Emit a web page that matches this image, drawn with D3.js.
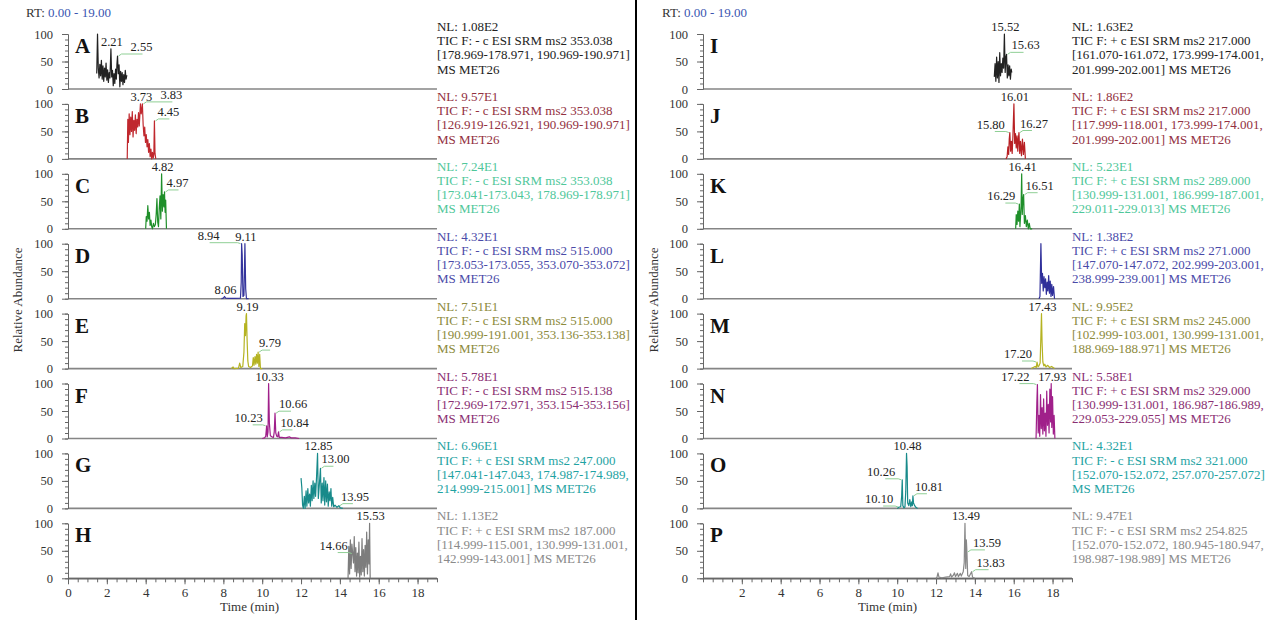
<!DOCTYPE html>
<html>
<head>
<meta charset="utf-8">
<script src="https://cdn.jsdelivr.net/npm/d3@7"></script>
<style>
  body { margin: 0; background: #fff; }
  svg text { font-family: "Liberation Serif", "Times New Roman", serif; }
</style>
</head>
<body>
<svg id="chart" width="1272" height="620"></svg>
<script>
// ---- data ----
const letters = ["A","B","C","D","E","F","G","H","I","J","K","L","M","N","O","P"];
const nlLabels = ["1.08E2","9.57E1","7.24E1","4.32E1","7.51E1","5.78E1","6.96E1","1.13E2",
                  "1.63E2","1.86E2","5.23E1","1.38E2","9.95E2","5.58E1","4.32E1","9.47E1"];
const ticLines = [
  ["TIC F: - c ESI SRM ms2 353.038","[178.969-178.971, 190.969-190.971]","MS MET26"],
  ["TIC F: - c ESI SRM ms2 353.038","[126.919-126.921, 190.969-190.971]","MS MET26"],
  ["TIC F: - c ESI SRM ms2 353.038","[173.041-173.043, 178.969-178.971]","MS MET26"],
  ["TIC F: - c ESI SRM ms2 515.000","[173.053-173.055, 353.070-353.072]","MS MET26"],
  ["TIC F: - c ESI SRM ms2 515.000","[190.999-191.001, 353.136-353.138]","MS MET26"],
  ["TIC F: - c ESI SRM ms2 515.138","[172.969-172.971, 353.154-353.156]","MS MET26"],
  ["TIC F: + c ESI SRM ms2 247.000","[147.041-147.043, 174.987-174.989,","214.999-215.001] MS MET26"],
  ["TIC F: + c ESI SRM ms2 187.000","[114.999-115.001, 130.999-131.001,","142.999-143.001] MS MET26"],
  ["TIC F: + c ESI SRM ms2 217.000","[161.070-161.072, 173.999-174.001,","201.999-202.001] MS MET26"],
  ["TIC F: + c ESI SRM ms2 217.000","[117.999-118.001, 173.999-174.001,","201.999-202.001] MS MET26"],
  ["TIC F: + c ESI SRM ms2 289.000","[130.999-131.001, 186.999-187.001,","229.011-229.013] MS MET26"],
  ["TIC F: + c ESI SRM ms2 271.000","[147.070-147.072, 202.999-203.001,","238.999-239.001] MS MET26"],
  ["TIC F: + c ESI SRM ms2 245.000","[102.999-103.001, 130.999-131.001,","188.969-188.971] MS MET26"],
  ["TIC F: + c ESI SRM ms2 329.000","[130.999-131.001, 186.987-186.989,","229.053-229.055] MS MET26"],
  ["TIC F: - c ESI SRM ms2 321.000","[152.070-152.072, 257.070-257.072]","MS MET26"],
  ["TIC F: - c ESI SRM ms2 254.825","[152.070-152.072, 180.945-180.947,","198.987-198.989] MS MET26"]
];

// traces: [time (min), relative abundance]
const traceA = [[1.48,28],[1.52,100],[1.56,38],[1.60,20],[1.64,45],[1.68,24],[1.72,52],[1.76,18],[1.80,42],[1.84,14],[1.88,38],[1.92,22],[1.96,47],[2.00,16],[2.04,35],[2.08,12],[2.12,30],[2.16,20],[2.21,73],[2.25,22],[2.29,34],[2.33,6],[2.37,28],[2.41,10],[2.45,36],[2.49,18],[2.52,45],[2.55,60],[2.59,28],[2.63,44],[2.67,4],[2.71,32],[2.75,14],[2.79,30],[2.83,8],[2.87,26],[2.91,12],[2.95,34],[2.99,18],[3.03,25]];
const traceB = [[3.05,0],[3.08,72],[3.11,30],[3.15,82],[3.19,44],[3.23,76],[3.27,50],[3.31,86],[3.35,40],[3.39,70],[3.43,52],[3.47,80],[3.51,46],[3.55,72],[3.59,58],[3.63,84],[3.67,60],[3.73,100],[3.77,82],[3.80,90],[3.83,100],[3.87,62],[3.91,42],[3.95,58],[3.99,30],[4.03,44],[4.07,22],[4.11,35],[4.15,12],[4.19,28],[4.23,4],[4.27,18],[4.31,0],[4.35,12],[4.39,2],[4.42,8],[4.45,69],[4.48,10],[4.52,0]];
const traceC = [[4.00,0],[4.03,22],[4.07,14],[4.11,42],[4.15,18],[4.19,30],[4.23,6],[4.27,16],[4.31,4],[4.35,0],[4.40,10],[4.45,4],[4.50,8],[4.54,26],[4.58,55],[4.62,12],[4.66,4],[4.70,38],[4.74,60],[4.78,18],[4.82,100],[4.86,32],[4.90,62],[4.94,40],[4.97,67],[5.00,30],[5.03,52],[5.07,0]];
const traceD = [[7.90,0],[8.00,1],[8.06,4],[8.12,1],[8.30,0.5],[8.60,0.5],[8.88,1],[8.92,30],[8.94,100],[8.97,80],[9.01,4],[9.06,6],[9.09,60],[9.11,100],[9.15,18],[9.19,0],[9.30,0]];
const traceE = [[8.40,0],[8.50,3],[8.55,0],[8.78,1],[8.84,10],[8.90,2],[9.00,4],[9.06,30],[9.10,82],[9.14,60],[9.17,96],[9.19,100],[9.22,55],[9.26,14],[9.30,4],[9.40,2],[9.50,5],[9.54,20],[9.58,6],[9.63,22],[9.67,8],[9.71,26],[9.75,10],[9.79,30],[9.83,4],[9.87,26],[9.91,0],[10.00,0]];
const traceF = [[10.00,0],[10.12,1],[10.18,4],[10.23,23],[10.26,3],[10.30,12],[10.33,100],[10.37,28],[10.42,5],[10.50,3],[10.58,2],[10.62,12],[10.66,46],[10.70,10],[10.75,4],[10.80,3],[10.84,12],[10.88,2],[11.00,2],[11.20,1],[11.40,3],[11.50,1],[11.70,1],[11.90,0]];
const traceG = [[12.00,55],[12.04,38],[12.08,6],[12.12,0],[12.17,22],[12.21,0],[12.26,32],[12.30,4],[12.35,36],[12.39,10],[12.44,26],[12.48,4],[12.53,42],[12.57,14],[12.62,50],[12.66,18],[12.71,46],[12.75,22],[12.80,58],[12.85,100],[12.89,18],[12.94,42],[13.00,73],[13.04,10],[13.09,46],[13.13,14],[13.18,56],[13.22,6],[13.27,50],[13.31,12],[13.36,44],[13.40,4],[13.45,30],[13.49,14],[13.54,36],[13.58,4],[13.63,20],[13.68,3],[13.75,6],[13.85,2],[13.95,5],[14.02,1],[14.15,0]];
const traceH = [[14.42,0],[14.46,58],[14.50,8],[14.54,70],[14.58,18],[14.62,62],[14.66,45],[14.70,28],[14.74,76],[14.78,12],[14.82,56],[14.86,4],[14.90,46],[14.94,10],[14.98,66],[15.02,2],[15.06,40],[15.10,6],[15.14,72],[15.18,12],[15.22,52],[15.26,4],[15.30,60],[15.34,20],[15.38,84],[15.42,8],[15.46,70],[15.50,26],[15.53,100],[15.56,0]];
const traceI = [[15.00,22],[15.04,46],[15.08,14],[15.12,58],[15.16,20],[15.20,50],[15.24,12],[15.28,66],[15.32,24],[15.36,46],[15.40,30],[15.44,56],[15.48,38],[15.52,100],[15.56,30],[15.60,58],[15.63,63],[15.67,20],[15.71,44],[15.75,24],[15.79,42],[15.83,18],[15.87,36],[15.90,30]];
const traceJ = [[15.60,0],[15.66,4],[15.70,22],[15.74,8],[15.77,36],[15.80,48],[15.84,14],[15.88,32],[15.92,10],[15.96,42],[16.01,100],[16.05,28],[16.09,46],[16.13,20],[16.17,42],[16.21,14],[16.24,36],[16.27,48],[16.31,10],[16.35,32],[16.40,6],[16.45,36],[16.50,8],[16.55,30],[16.60,0]];
const traceK = [[16.10,0],[16.13,26],[16.17,8],[16.21,32],[16.25,14],[16.29,45],[16.32,4],[16.35,22],[16.38,42],[16.41,100],[16.44,26],[16.47,52],[16.51,62],[16.55,10],[16.60,24],[16.65,4],[16.70,16],[16.75,0],[16.80,10],[16.85,0],[16.95,0]];
const traceL = [[17.30,0],[17.35,4],[17.40,100],[17.44,28],[17.48,46],[17.52,14],[17.56,40],[17.60,20],[17.64,36],[17.68,8],[17.72,30],[17.76,14],[17.80,42],[17.84,10],[17.88,32],[17.92,4],[17.96,26],[18.00,6],[18.05,22],[18.10,0]];
const traceM = [[16.90,0],[17.00,2],[17.10,4],[17.16,2],[17.20,12],[17.25,3],[17.30,5],[17.36,10],[17.40,60],[17.43,100],[17.46,48],[17.50,12],[17.55,5],[17.60,8],[17.66,3],[17.75,6],[17.85,2],[17.95,4],[18.10,0]];
const traceN = [[17.15,0],[17.19,64],[17.22,98],[17.26,10],[17.30,42],[17.34,4],[17.38,80],[17.42,18],[17.46,56],[17.50,8],[17.54,72],[17.58,14],[17.62,46],[17.66,4],[17.70,86],[17.74,24],[17.78,62],[17.82,10],[17.86,90],[17.90,30],[17.93,100],[17.96,20],[18.00,76],[18.04,8],[18.08,42],[18.12,0]];
const traceO = [[10.00,0],[10.10,2.5],[10.18,3],[10.23,22],[10.26,52],[10.29,5],[10.35,1],[10.40,3],[10.44,30],[10.48,100],[10.51,76],[10.54,10],[10.60,5],[10.65,16],[10.70,3],[10.75,12],[10.78,5],[10.81,23],[10.84,10],[10.90,5],[10.96,2],[11.05,0]];
const traceP = [[12.00,0],[12.05,2],[12.10,10],[12.15,2],[12.30,1],[12.50,2],[12.70,3],[12.75,8],[12.80,2],[12.90,6],[12.95,10],[13.00,3],[13.10,9],[13.15,3],[13.25,9],[13.30,4],[13.40,12],[13.45,28],[13.49,100],[13.53,18],[13.56,70],[13.59,48],[13.63,5],[13.70,3],[13.83,12],[13.88,2],[14.00,0]];
const traces = [traceA,traceB,traceC,traceD,traceE,traceF,traceG,traceH,
                traceI,traceJ,traceK,traceL,traceM,traceN,traceO,traceP];

// labelled peak retention times per panel
const peakTimes = [
  [2.21,2.55],[3.73,3.83,4.45],[4.82,4.97],[8.06,8.94,9.11],[9.19,9.79],[10.23,10.33,10.66,10.84],[12.85,13.00,13.95],[14.66,15.53],
  [15.52,15.63],[15.80,16.01,16.27],[16.29,16.41,16.51],[],[17.20,17.43],[17.22,17.93],[10.10,10.26,10.48,10.81],[13.49,13.59,13.83]
];
// label placement: u = above, r/l = leader to the right/left (+ leader length)
const peakSides = [
  ["u","r25"],["u","r30","r15"],["u","r14"],["u","l32","u"],["u","r12"],["l14","u","r16","r14"],["u","r13","r14"],["l15","u"],
  ["u","r17"],["l15","u","r13"],["l14","u","r14"],[],["l15","u"],["l18","u"],["l16","l17","u","r14"],["u","r18","r17"]
];
const xTicksLeft = [0,2,4,6,8,10,12,14,16,18];
const xTicksRight = [2,4,6,8,10,12,14,16,18];

// colours
const lineColors = ["#222","#c0282e","#1f8f2a","#34349c","#b5b322","#a0208a","#178a8a","#7d7d7d",
                    "#222","#b82024","#1f8f2a","#2f2f9a","#b5b322","#a0208a","#178a8a","#888"];
const textColors = ["#222","#923040","#4fc79a","#4a4aa8","#8c8a3c","#8a2f72","#1fa3a3","#8a8a8a",
                    "#222","#923040","#4fc79a","#4a4aa8","#8c8a3c","#8a2f72","#1fa3a3","#8a8a8a"];

// ---- layout ----
const svg = d3.select("#chart");
const halfX = [68, 703];
const pxPerMin = 19.42;
const rowBase = d3.range(8).map(i => 89 + i * 69.9);
const rowH = 55;
const axisColor = "#666";

function styleAxis(g) {
  g.selectAll("path.domain").attr("stroke", axisColor);
  g.selectAll(".tick line").attr("stroke", axisColor);
  g.selectAll(".tick text").attr("fill", "#333").style("font-size", "12.5px")
    .style("font-family", '"Liberation Serif", "Times New Roman", serif');
}

traces.forEach((trace, k) => {
  const half = k < 8 ? 0 : 1;
  const row = k % 8;
  const x = d3.scaleLinear().domain([0, 19]).range([halfX[half], halfX[half] + 19 * pxPerMin]);
  const y = d3.scaleLinear().domain([0, 100]).range([rowBase[row], rowBase[row] - rowH]);
  const g = svg.append("g");

  // baseline
  g.append("line")
    .attr("x1", x(0)).attr("x2", x(19))
    .attr("y1", y(0)).attr("y2", y(0))
    .attr("stroke", "#858585").attr("stroke-width", 1.6);

  // y axis: minor + major ticks
  g.append("g").attr("transform", `translate(${x(0)},0)`)
    .call(d3.axisLeft(y).tickValues(d3.range(0, 101, 10)).tickSize(3).tickSizeOuter(0).tickFormat(""))
    .call(styleAxis);
  g.append("g").attr("transform", `translate(${x(0)},0)`)
    .call(d3.axisLeft(y).tickValues([0, 50, 100]).tickSize(6).tickPadding(9).tickSizeOuter(0))
    .call(styleAxis);

  // bottom time axis on last row
  if (row === 7) {
    g.append("g").attr("transform", `translate(0,${y(0)})`)
      .call(d3.axisBottom(x).tickValues(d3.range(0, 19.01, 0.5)).tickSize(4).tickSizeOuter(0).tickFormat(""))
      .call(styleAxis);
    g.append("g").attr("transform", `translate(0,${y(0)})`)
      .call(d3.axisBottom(x).tickValues(half === 0 ? xTicksLeft : xTicksRight).tickSize(6).tickPadding(3).tickSizeOuter(0))
      .call(styleAxis)
      .call(a => a.selectAll(".tick text").style("font-size", "13px"));
  }

  // panel letter
  g.append("text")
    .attr("x", x(0) + 7).attr("y", y(100) + 19)
    .attr("font-size", 21).attr("font-weight", "bold").attr("fill", "#111")
    .text(letters[k]);

  // trace
  g.append("path")
    .datum(trace)
    .attr("fill", "none")
    .attr("stroke", lineColors[k])
    .attr("stroke-width", 1.2)
    .attr("stroke-linejoin", "round")
    .attr("d", d3.line().x(d => x(d[0])).y(d => y(d[1])));

  // peak labels
  peakTimes[k].forEach((t, j) => {
    const p = d3.least(trace, d => Math.abs(d[0] - t));
    const px = x(p[0]), py = y(p[1]);
    const s = peakSides[k][j];
    const side = s[0];
    const len = +s.slice(1) || 15;
    const lbl = g.append("text").attr("font-size", 12.5).attr("fill", "#222").text(t.toFixed(2));
    if (side === "u") {
      lbl.attr("x", px + 1).attr("y", py - 3).attr("text-anchor", "middle");
    } else if (side === "r") {
      g.append("path")
        .attr("d", `M${px + 1},${py} L${px + 4},${py - 2} L${px + len},${py - 2}`)
        .attr("fill", "none").attr("stroke", "#8fcf95").attr("stroke-width", 1);
      lbl.attr("x", px + Math.max(1, len - 12)).attr("y", py - 5).attr("text-anchor", "start");
    } else {
      g.append("path")
        .attr("d", `M${px - 1},${py} L${px - 4},${py - 1} L${px - len},${py - 1}`)
        .attr("fill", "none").attr("stroke", "#8fcf95").attr("stroke-width", 1);
      lbl.attr("x", px - Math.max(2, len - 10)).attr("y", py - 4).attr("text-anchor", "end");
    }
  });

  // NL / TIC text block
  const tb = g.append("text")
    .attr("x", x(19)).attr("y", y(0) - 70 + 12)
    .attr("font-size", 13).attr("fill", textColors[k]);
  [`NL: ${nlLabels[k]}`].concat(ticLines[k]).forEach((line, i) => {
    tb.append("tspan").attr("x", x(19)).attr("dy", i === 0 ? 0 : 14.2).text(line);
  });
});

// headers, axis titles, divider
[0, 1].forEach(h => {
  const ox = h === 0 ? 0 : 636;
  const rt = svg.append("text").attr("x", ox + 26).attr("y", 17).attr("font-size", 13).attr("fill", "#333");
  rt.append("tspan").text("RT: ");
  rt.append("tspan").attr("fill", "#3a55b0").text("0.00 - 19.00");

  svg.append("text")
    .attr("transform", `translate(${ox + 22},300) rotate(-90)`)
    .attr("text-anchor", "middle").attr("font-size", 13).attr("fill", "#333")
    .text("Relative Abundance");

  svg.append("text")
    .attr("x", halfX[h] + 19 * pxPerMin / 2 + (h === 0 ? -3 : 0)).attr("y", 611)
    .attr("text-anchor", "middle").attr("font-size", 13).attr("fill", "#333")
    .text("Time (min)");
});

svg.append("line")
  .attr("x1", 636).attr("x2", 636).attr("y1", 0).attr("y2", 620)
  .attr("stroke", "#000").attr("stroke-width", 2);
</script>
</body>
</html>
